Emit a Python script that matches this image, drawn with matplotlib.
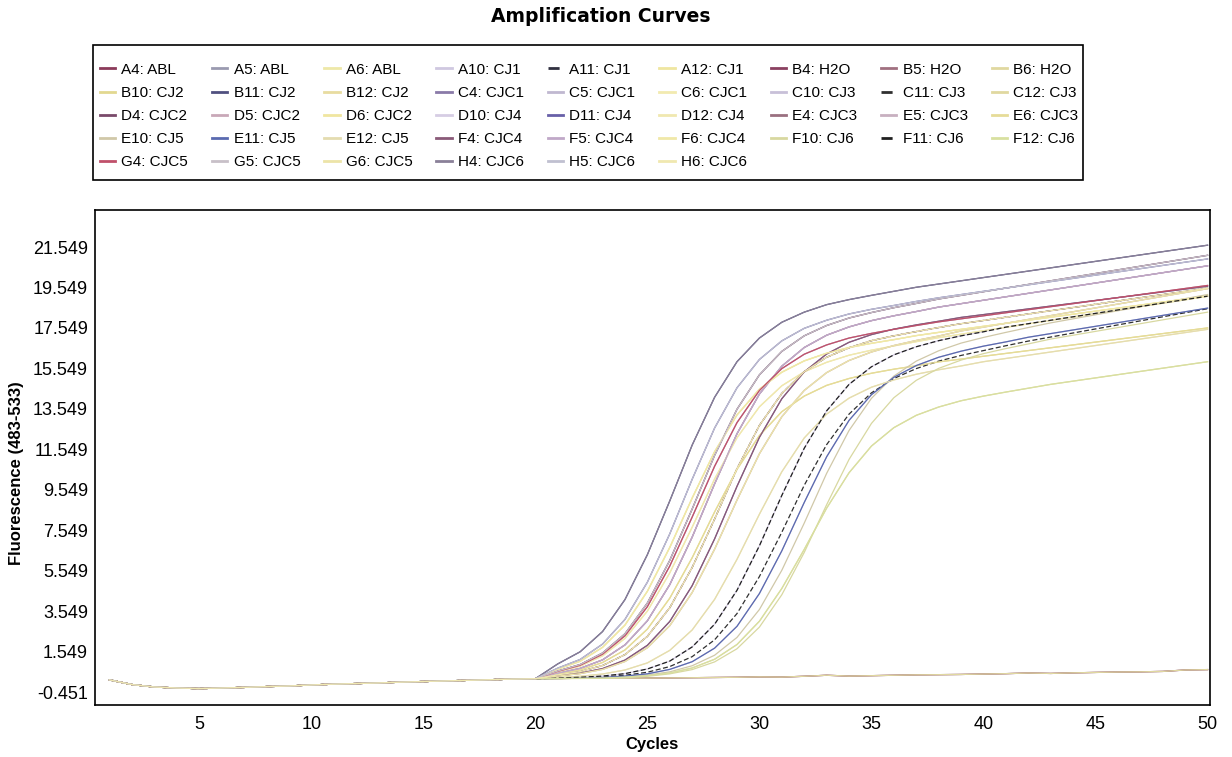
import numpy as np
import matplotlib
matplotlib.use('Agg')
import matplotlib.pyplot as plt
from matplotlib.lines import Line2D
from matplotlib.patches import Rectangle

plt.rcParams['font.family'] = ['Liberation Sans', 'DejaVu Sans']

cycles = np.arange(1, 51)

# common baseline read for cycles 1-20
baseline = [0.15, -0.08, -0.20, -0.25, -0.28, -0.25, -0.22, -0.18, -0.15, -0.10,
            -0.06, -0.03, 0.00, 0.04, 0.07, 0.10, 0.13, 0.16, 0.19, 0.21]

# curve shapes, cycles 21-50
early_1 = [0.94, 1.54, 2.54, 4.12, 6.34, 9.00, 11.76, 14.12, 15.88, 17.05,
           17.83, 18.33, 18.70, 18.95, 19.16, 19.36, 19.56, 19.72, 19.88, 20.04,
           20.20, 20.36, 20.52, 20.68, 20.84, 21.00, 21.16, 21.32, 21.48, 21.64]
early_2 = [0.73, 1.16, 1.92, 3.14, 4.98, 7.37, 10.07, 12.60, 14.59, 15.99,
           16.91, 17.53, 17.93, 18.24, 18.47, 18.66, 18.86, 19.04, 19.20, 19.36,
           19.52, 19.68, 19.84, 20.00, 20.16, 20.32, 20.48, 20.64, 20.80, 20.96]
mid_1 = [0.57, 0.87, 1.42, 2.33, 3.77, 5.78, 8.20, 10.71, 12.87, 14.46,
         15.54, 16.25, 16.71, 17.05, 17.28, 17.48, 17.67, 17.85, 18.00, 18.15,
         18.30, 18.45, 18.60, 18.75, 18.90, 19.05, 19.20, 19.35, 19.50, 19.65]
mid_2 = [0.48, 0.72, 1.14, 1.88, 3.07, 4.86, 7.21, 9.84, 12.32, 14.28,
         15.66, 16.58, 17.19, 17.60, 17.91, 18.15, 18.36, 18.58, 18.75, 18.92,
         19.09, 19.26, 19.43, 19.60, 19.77, 19.94, 20.11, 20.28, 20.45, 20.62]
mid_3 = [0.55, 0.83, 1.34, 2.20, 3.55, 5.44, 7.70, 10.08, 12.12, 13.65,
         14.69, 15.38, 15.85, 16.20, 16.45, 16.66, 16.87, 17.07, 17.24, 17.41,
         17.58, 17.75, 17.92, 18.09, 18.26, 18.43, 18.60, 18.77, 18.94, 19.11]
mid_4 = [0.40, 0.56, 0.86, 1.40, 2.30, 3.72, 5.71, 8.10, 10.59, 12.73,
         14.31, 15.39, 16.10, 16.57, 16.92, 17.16, 17.37, 17.57, 17.76, 17.92,
         18.08, 18.24, 18.40, 18.56, 18.72, 18.88, 19.04, 19.20, 19.36, 19.52]
mid_5 = [0.68, 1.07, 1.76, 2.86, 4.53, 6.70, 9.14, 11.43, 13.25, 14.52,
         15.36, 15.92, 16.30, 16.58, 16.79, 16.97, 17.17, 17.33, 17.48, 17.63,
         17.78, 17.93, 18.08, 18.23, 18.38, 18.53, 18.68, 18.83, 18.98, 19.13]
mid_6 = [0.34, 0.46, 0.67, 1.06, 1.74, 2.83, 4.47, 6.61, 9.04, 11.33,
         13.16, 14.46, 15.34, 15.94, 16.36, 16.68, 16.93, 17.15, 17.40, 17.59,
         17.78, 17.97, 18.16, 18.35, 18.54, 18.73, 18.92, 19.11, 19.30, 19.49]
mid_7 = [0.44, 0.64, 1.01, 1.63, 2.66, 4.19, 6.19, 8.45, 10.56, 12.23,
         13.41, 14.18, 14.71, 15.05, 15.31, 15.51, 15.68, 15.87, 16.01, 16.15,
         16.29, 16.43, 16.57, 16.71, 16.85, 16.99, 17.13, 17.27, 17.41, 17.55]
mid_8 = [0.27, 0.33, 0.44, 0.64, 0.99, 1.61, 2.62, 4.13, 6.11, 8.34,
         10.44, 12.11, 13.29, 14.08, 14.62, 14.98, 15.26, 15.48, 15.67, 15.88,
         16.04, 16.20, 16.36, 16.52, 16.68, 16.84, 17.00, 17.16, 17.32, 17.48]
mid_9 = [0.59, 0.91, 1.48, 2.43, 3.95, 6.06, 8.60, 11.25, 13.53, 15.23,
         16.39, 17.16, 17.67, 18.04, 18.31, 18.55, 18.76, 18.98, 19.16, 19.34,
         19.52, 19.70, 19.88, 20.06, 20.24, 20.42, 20.60, 20.78, 20.96, 21.14]
mid_10 = [0.35, 0.48, 0.71, 1.13, 1.86, 3.04, 4.81, 7.12, 9.72, 12.14,
          14.05, 15.38, 16.26, 16.84, 17.22, 17.49, 17.70, 17.88, 18.07, 18.21,
          18.35, 18.49, 18.63, 18.77, 18.91, 19.05, 19.19, 19.33, 19.47, 19.61]
late_1 = [0.23, 0.25, 0.30, 0.38, 0.53, 0.81, 1.30, 2.13, 3.43, 5.26,
          7.45, 9.77, 11.78, 13.29, 14.34, 15.05, 15.54, 15.91, 16.19, 16.43,
          16.67, 16.90, 17.10, 17.30, 17.50, 17.70, 17.90, 18.10, 18.30, 18.50]
late_2 = [0.22, 0.24, 0.27, 0.34, 0.45, 0.67, 1.05, 1.72, 2.80, 4.42,
          6.53, 8.92, 11.18, 12.98, 14.25, 15.11, 15.69, 16.10, 16.40, 16.65,
          16.86, 17.09, 17.27, 17.45, 17.63, 17.81, 17.99, 18.17, 18.35, 18.53]
late_3 = [0.22, 0.23, 0.25, 0.30, 0.39, 0.55, 0.85, 1.37, 2.25, 3.63,
          5.57, 7.90, 10.36, 12.48, 14.07, 15.17, 15.91, 16.42, 16.80, 17.08,
          17.33, 17.57, 17.80, 18.00, 18.20, 18.40, 18.60, 18.80, 19.00, 19.20]
late_4 = [0.24, 0.28, 0.34, 0.46, 0.69, 1.08, 1.78, 2.90, 4.58, 6.78,
          9.27, 11.60, 13.45, 14.76, 15.63, 16.22, 16.62, 16.92, 17.16, 17.36,
          17.59, 17.76, 17.93, 18.10, 18.27, 18.44, 18.61, 18.78, 18.95, 19.12]
late_5 = [0.21, 0.22, 0.23, 0.25, 0.33, 0.45, 0.66, 1.04, 1.69, 2.76,
          4.36, 6.45, 8.81, 11.05, 12.83, 14.10, 14.96, 15.55, 15.96, 16.28,
          16.53, 16.76, 17.00, 17.19, 17.38, 17.57, 17.76, 17.95, 18.14, 18.33]
low = [0.22, 0.23, 0.24, 0.29, 0.36, 0.49, 0.74, 1.17, 1.90, 3.05,
       4.67, 6.60, 8.64, 10.39, 11.71, 12.62, 13.23, 13.64, 13.95, 14.18,
       14.38, 14.57, 14.76, 14.92, 15.08, 15.24, 15.40, 15.56, 15.72, 15.88]
negative = [0.22, 0.23, 0.23, 0.24, 0.24, 0.25, 0.26, 0.27, 0.28, 0.30,
            0.29, 0.33, 0.38, 0.34, 0.36, 0.38, 0.40, 0.41, 0.42, 0.44,
            0.46, 0.49, 0.47, 0.50, 0.52, 0.54, 0.55, 0.57, 0.64, 0.66]

shapes = {'E1': early_1, 'E2': early_2, 'M1': mid_1, 'M2': mid_2, 'M3': mid_3,
          'M4': mid_4, 'M5': mid_5, 'M6': mid_6, 'M7': mid_7, 'M8': mid_8,
          'M9': mid_9, 'M10': mid_10, 'L1': late_1, 'L2': late_2, 'L3': late_3,
          'L4': late_4, 'L5': late_5, 'LOW': low, 'NEG': negative}

wells = ['A4', 'A5', 'A6', 'A10', 'A11', 'A12', 'B4', 'B5', 'B6',
         'B10', 'B11', 'B12', 'C4', 'C5', 'C6', 'C10', 'C11', 'C12',
         'D4', 'D5', 'D6', 'D10', 'D11', 'D12', 'E4', 'E5', 'E6',
         'E10', 'E11', 'E12', 'F4', 'F5', 'F6', 'F10', 'F11', 'F12',
         'G4', 'G5', 'G6', 'H4', 'H5', 'H6']
samples = ['ABL', 'ABL', 'ABL', 'CJ1', 'CJ1', 'CJ1', 'H2O', 'H2O', 'H2O',
           'CJ2', 'CJ2', 'CJ2', 'CJC1', 'CJC1', 'CJC1', 'CJ3', 'CJ3', 'CJ3',
           'CJC2', 'CJC2', 'CJC2', 'CJ4', 'CJ4', 'CJ4', 'CJC3', 'CJC3', 'CJC3',
           'CJ5', 'CJ5', 'CJ5', 'CJC4', 'CJC4', 'CJC4', 'CJ6', 'CJ6', 'CJ6',
           'CJC5', 'CJC5', 'CJC5', 'CJC6', 'CJC6', 'CJC6']
well_shape = ['M2', 'M9', 'M5', 'M1', 'M4', 'M3', 'NEG', 'NEG', 'NEG',
              'M7', 'E1', 'M6', 'M10', 'M2', 'M8', 'L2', 'L1', 'LOW',
              'M9', 'M1', 'M5', 'L4', 'E2', 'M3', 'M4', 'M6', 'M7',
              'L3', 'L2', 'M8', 'M10', 'M2', 'M5', 'L5', 'L4', 'LOW',
              'M1', 'M9', 'M6', 'E1', 'E2', 'M4']
well_colors = ['#8b3a5a', '#9a9ab0', '#eee8a8', '#cfc8e0', '#303040', '#efe6a0',
               '#8a4060', '#a07080', '#e0d8a0',
               '#e2d890', '#505080', '#e8dca0', '#8a7aa8', '#c0b8d0', '#f2eab0',
               '#c8c0d8', '#303030', '#e0d8a0',
               '#7a4a6a', '#c9a8b8', '#f0e6a0', '#d6cde4', '#6860a8', '#f0e8b0',
               '#9a7080', '#c8b0c0', '#e6dc98',
               '#d0c8a8', '#5a6ab0', '#e4dcb0', '#8a5a78', '#c0a8c8', '#f0e8a8',
               '#d8d8a0', '#202020', '#d8e0a0',
               '#c0506a', '#c8c0c8', '#ece4a8', '#8a8098', '#c0c0d0', '#f0e8b0']
dashed_wells = ['A11', 'C11', 'F11']

y_ticks = [-0.451, 1.549, 3.549, 5.549, 7.549, 9.549, 11.549,
           13.549, 15.549, 17.549, 19.549, 21.549]
x_ticks = [5, 10, 15, 20, 25, 30, 35, 40, 45, 50]

fig = plt.figure(figsize=(12.32, 7.57), dpi=100)
ax = fig.add_axes([0.0771, 0.0687, 0.9049, 0.6539])

handles = []
for well, col, shp in zip(wells, well_colors, well_shape):
    ls = (0, (4, 2)) if well in dashed_wells else '-'
    y = np.array(baseline + shapes[shp])
    ax.plot(cycles, y, color=col, lw=0.9, ls=ls)
    handles.append(Line2D([], [], color=col, lw=2, ls=ls))

ax.set_xlim(0.35, 50.1)
ax.set_ylim(-1.09, 23.38)
ax.set_xticks(x_ticks)
ax.set_yticks(y_ticks)
ax.set_yticklabels([f'{t:.3f}' for t in y_ticks])
ax.tick_params(axis='both', length=0, labelsize=13)
ax.tick_params(axis='x', pad=8)
ax.tick_params(axis='y', pad=5)
for sp in ax.spines.values():
    sp.set_linewidth(1.2)

# legend frame drawn on its own so its padding can differ from the entries
fig.patches.append(Rectangle((0.0755, 0.7622), 0.8036, 0.1784,
                             transform=fig.transFigure, fill=False,
                             edgecolor='black', lw=1.2))

labels = [f'{w}: {s}' for w, s in zip(wells, samples)]
# legend reads row by row, matplotlib fills column by column
order = [r * 9 + c for c in range(9) for r in range(5) if r * 9 + c < len(wells)]
leg = fig.legend([handles[i] for i in order], [labels[i] for i in order],
                 loc='upper left', bbox_to_anchor=(0.0812, 0.917, 0.794, 0.0),
                 mode='expand', ncols=9, fontsize=11, frameon=False,
                 handlelength=1.0, handletextpad=0.4, labelspacing=0.6,
                 borderpad=0, borderaxespad=0)

fig.text(0.488, 0.978, 'Amplification Curves', ha='center', va='center',
         fontsize=13.5, fontweight='bold', family='DejaVu Sans')
fig.text(0.529, 0.016, 'Cycles', ha='center', va='center',
         fontsize=12, fontweight='bold')
fig.text(0.013, 0.375, 'Fluorescence (483-533)', ha='center', va='center',
         rotation=90, fontsize=12, fontweight='bold')

fig.savefig('out.png', dpi=100)
